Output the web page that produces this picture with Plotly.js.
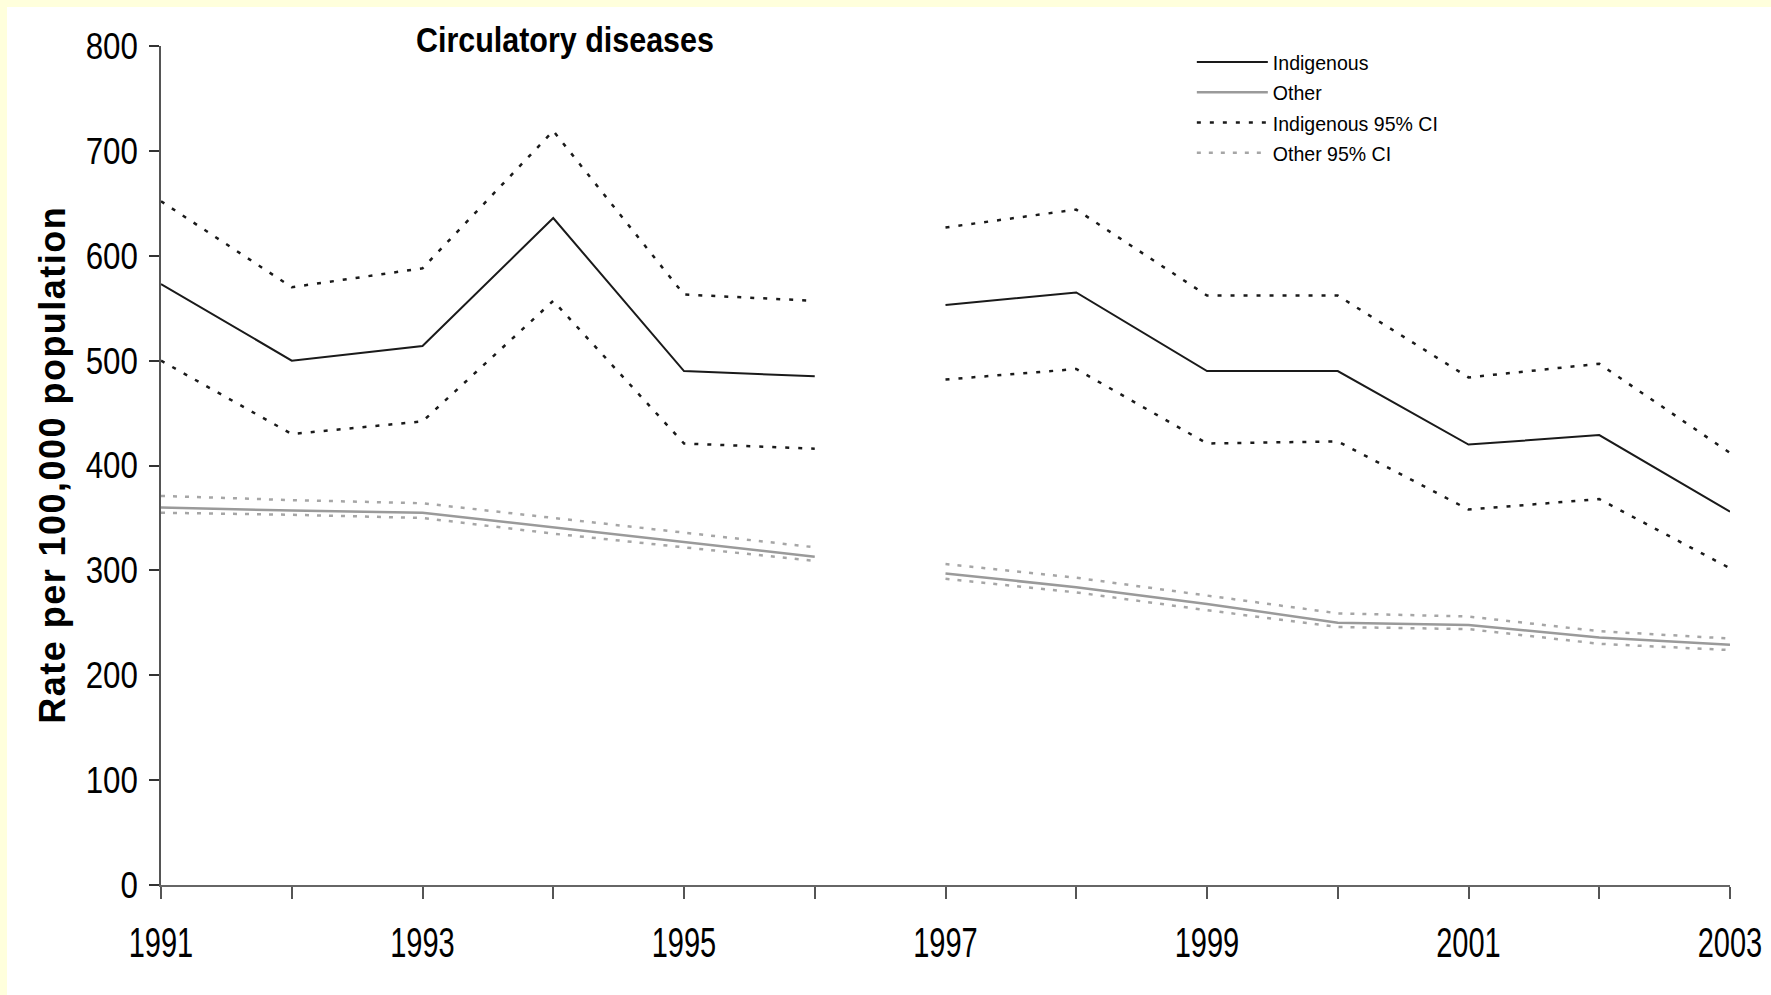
<!DOCTYPE html>
<html>
<head>
<meta charset="utf-8">
<script src="https://cdn.plot.ly/plotly-3.0.1.min.js"></script>
<style>
  html, body { margin: 0; padding: 0; background: #ffffdc; width: 1771px; height: 995px; overflow: hidden; }
  #chart { position: absolute; left: 7px; top: 7px; width: 1764px; height: 988px; background: #ffffff; }
</style>
</head>
<body>
<div id="chart"></div>
<script>
// ---- data ----
const years = [1991, 1992, 1993, 1994, 1995, 1996, 1997, 1998, 1999, 2000, 2001, 2002, 2003];
const xTickLabels = ["1991", "", "1993", "", "1995", "", "1997", "", "1999", "", "2001", "", "2003"];
const breakAfterYear = 1996; // series are not joined between 1996 and 1997

const indigenous      = [573, 500, 514, 636, 490, 485, 553, 565, 490, 490, 420, 429, 356];
const indigenousUpper = [652, 570, 588, 719, 563, 557, 627, 644, 562, 562, 484, 497, 412];
const indigenousLower = [500, 430, 442, 557, 421, 416, 482, 492, 421, 423, 358, 368, 302];

const other      = [360, 357, 355, 341, 327, 313, 297, 284, 268, 250, 248, 236, 229];
const otherUpper = [371, 367, 364, 350, 336, 322, 306, 293, 276, 259, 256, 242, 235];
const otherLower = [355, 353, 350, 335, 322, 309, 292, 279, 262, 246, 244, 230, 224];

const chartTitle = "Circulatory diseases";
const yTitle = "Rate per 100,000 population";
const seriesNames = ["Indigenous", "Other", "Indigenous 95% CI", "Other 95% CI"];

// ---- helpers: insert a gap between the two periods ----
function withGap(arrX, arrY) {
  const xs = [], ys = [];
  for (let i = 0; i < arrX.length; i++) {
    xs.push(arrX[i]); ys.push(arrY[i]);
    if (arrX[i] === breakAfterYear) { xs.push(null); ys.push(null); }
  }
  return { x: xs, y: ys };
}

const SANS = '"Liberation Sans", Arial, sans-serif';
const BLACK = '#1a1a1a';
const GREY = '#9a9a9a';
const GREY_CI = '#a6a6a6';

function trace(values, name, color, width, dash, showlegend, group) {
  const d = withGap(years, values);
  return {
    type: 'scatter', mode: 'lines', x: d.x, y: d.y, name: name,
    connectgaps: false, showlegend: showlegend, legendgroup: group,
    line: { color: color, width: width, dash: dash },
    hoverinfo: 'x+y+name'
  };
}

const data = [
  trace(indigenous, seriesNames[0], BLACK, 2, 'solid', true, 'ind'),
  trace(other, seriesNames[1], GREY, 2.5, 'solid', true, 'oth'),
  trace(indigenousUpper, seriesNames[2], BLACK, 2.5, '4px,9px', true, 'indci'),
  trace(indigenousLower, seriesNames[2], BLACK, 2.5, '4px,9px', false, 'indci'),
  trace(otherUpper, seriesNames[3], GREY_CI, 2.5, '4px,8px', true, 'othci'),
  trace(otherLower, seriesNames[3], GREY_CI, 2.5, '4px,8px', false, 'othci')
];

const layout = {
  width: 1764, height: 988,
  paper_bgcolor: '#ffffff', plot_bgcolor: '#ffffff',
  margin: { l: 154, r: 41, t: 39, b: 110, pad: 0 },
  showlegend: true,
  title: {
    text: '<b>' + chartTitle + '</b>',
    font: { family: SANS, size: 35, color: '#000000' },
    xref: 'container', x: 0.3163, xanchor: 'center',
    yref: 'container', y: 0.9666, yanchor: 'middle'
  },
  xaxis: {
    range: [1991, 2003],
    tickmode: 'array', tickvals: years, ticktext: xTickLabels,
    ticks: 'outside', ticklen: 12, tickwidth: 1.5, tickcolor: '#555555',
    showline: true, linecolor: '#666666', linewidth: 1.5,
    showgrid: false, zeroline: false,
    ticklabelstandoff: 8,
    ticklabeloverflow: 'allow',
    tickfont: { family: SANS, size: 42, color: '#000000' }
  },
  yaxis: {
    range: [0, 800], dtick: 100, tick0: 0,
    ticks: 'outside', ticklen: 10, tickwidth: 1.5, tickcolor: '#333333',
    showline: true, linecolor: '#555555', linewidth: 1.5,
    showgrid: false, zeroline: false,
    ticklabelstandoff: 4,
    tickfont: { family: SANS, size: 37, color: '#000000' },
    title: {
      text: '<b>' + yTitle + '</b>',
      font: { family: SANS, size: 36, color: '#000000' },
      standoff: 0
    }
  },
  legend: {
    x: 0.657, xanchor: 'left', y: 1.005, yanchor: 'top',
    bgcolor: 'rgba(0,0,0,0)', borderwidth: 0,
    itemwidth: 71,
    font: { family: SANS, size: 21, color: '#000000' },
    traceorder: 'normal'
  },
  hovermode: 'closest'
};

// The reference uses a condensed typeface; narrow the rendered text to match.
function fitText(selector, factor, mode) {
  document.querySelectorAll('#chart ' + selector).forEach(function (t) {
    const len = t.getComputedTextLength();
    if (len > 0) {
      t.setAttribute('textLength', (len * factor).toFixed(1));
      t.setAttribute('lengthAdjust', mode);
    }
  });
}

Plotly.newPlot('chart', data, layout, { displayModeBar: false, responsive: false }).then(function () {
  fitText('.xtick text', 0.69, 'spacingAndGlyphs');
  fitText('.ytick text', 0.845, 'spacingAndGlyphs');
  fitText('.legendtext', 0.93, 'spacingAndGlyphs');
  fitText('.gtitle', 0.87, 'spacingAndGlyphs');
  fitText('.ytitle', 1.08, 'spacing');
});
</script>
</body>
</html>
